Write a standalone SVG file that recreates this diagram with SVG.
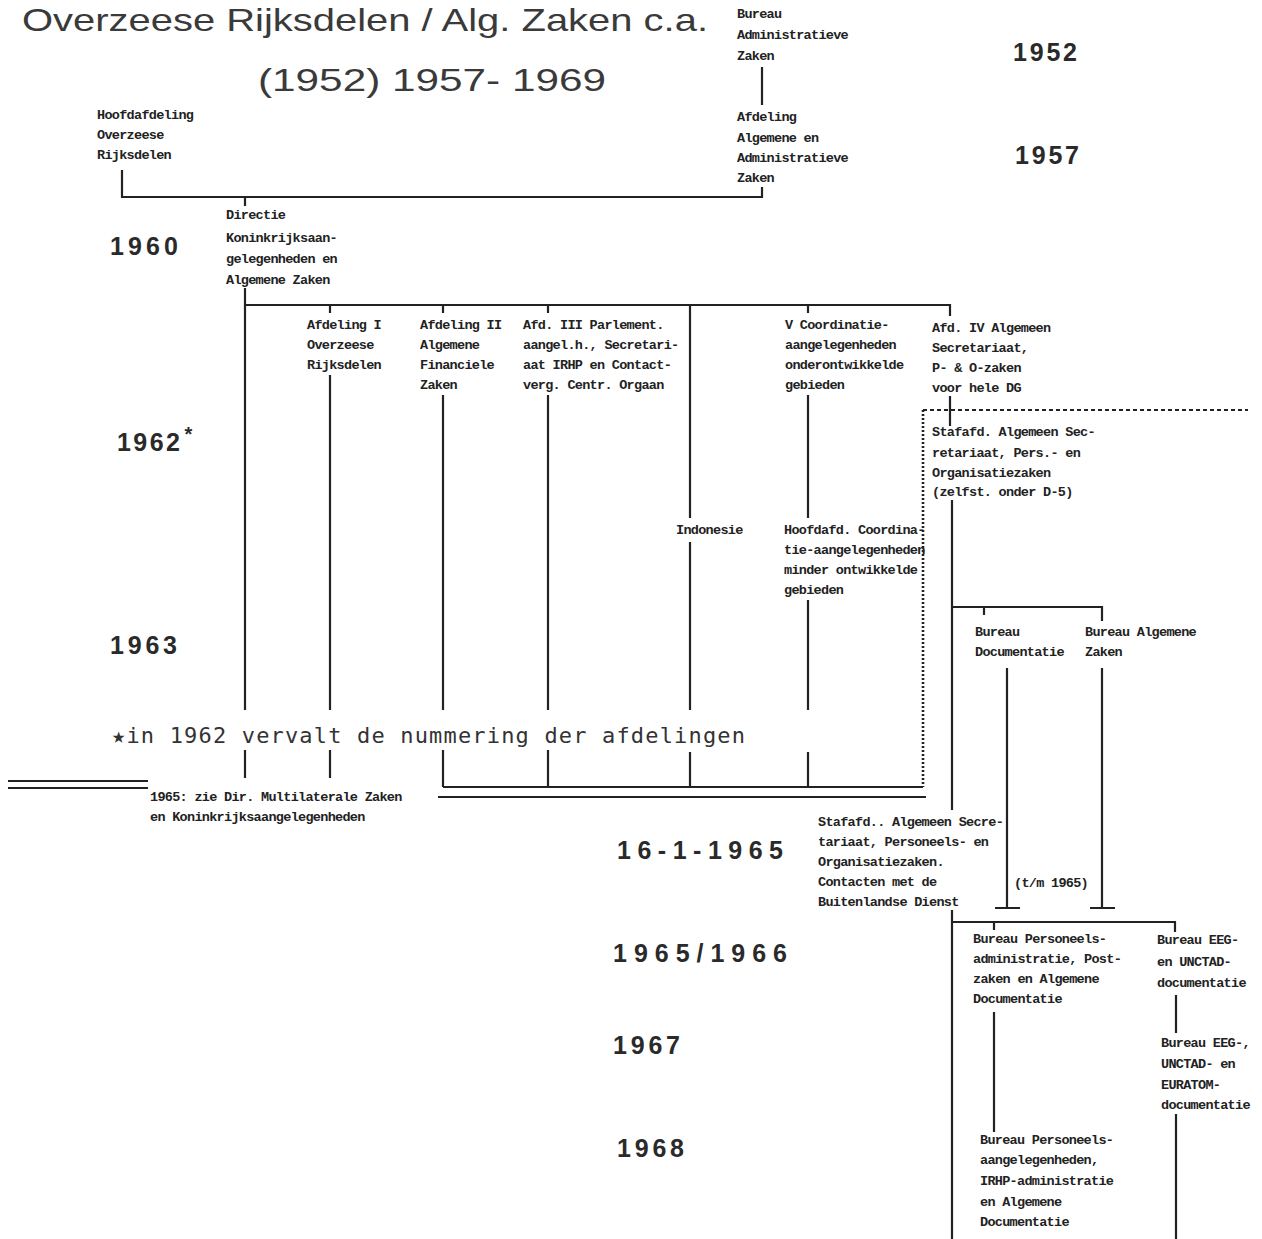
<svg xmlns="http://www.w3.org/2000/svg" width="1262" height="1239" viewBox="0 0 1262 1239">
<style>
.dm{font-family:"Liberation Mono","DejaVu Sans Mono",monospace;font-size:13.5px;letter-spacing:-0.7px;font-weight:bold;fill:#222}
.yr{font-family:"Liberation Sans","Arial",sans-serif;font-size:25px;font-weight:bold;fill:#2a2a2a}
.ttl{font-family:"Liberation Sans","Arial",sans-serif;fill:#3a3a3a}
.ln{fill:none;stroke:#222;stroke-width:2.2}
.dash{fill:none;stroke:#222;stroke-width:2.2;stroke-dasharray:4 3}
.dot{fill:none;stroke:#222;stroke-width:2.6;stroke-dasharray:2 2}
</style>
<rect width="1262" height="1239" fill="#fff"/>

<g id="title">
<text class="ttl" x="22" y="31" font-size="32" textLength="686" lengthAdjust="spacingAndGlyphs">Overzeese Rijksdelen / Alg. Zaken c.a.</text>
<text class="ttl" x="258" y="91" font-size="31" textLength="348" lengthAdjust="spacingAndGlyphs">(1952) 1957- 1969</text>
</g>

<g id="years">
<text class="yr" x="1013" y="61" textLength="64" lengthAdjust="spacing">1952</text>
<text class="yr" x="1015" y="164" textLength="64" lengthAdjust="spacing">1957</text>
<text class="yr" x="110" y="255" textLength="68" lengthAdjust="spacing">1960</text>
<text class="yr" x="117" y="451"><tspan textLength="63" lengthAdjust="spacing">1962</tspan><tspan dx="2" dy="-10" font-size="20">*</tspan></text>
<text class="yr" x="110" y="654" textLength="67" lengthAdjust="spacing">1963</text>
<text class="yr" x="617" y="859" textLength="166" lengthAdjust="spacing">16-1-1965</text>
<text class="yr" x="613" y="962" textLength="174" lengthAdjust="spacing">1965/1966</text>
<text class="yr" x="613" y="1054" textLength="67" lengthAdjust="spacing">1967</text>
<text class="yr" x="617" y="1157" textLength="67" lengthAdjust="spacing">1968</text>
</g>

<g id="footnote">
<text x="112" y="743" font-family="'DejaVu Sans Mono','Liberation Mono',monospace" font-size="22" fill="#333" textLength="633" lengthAdjust="spacing">★in 1962 vervalt de nummering der afdelingen</text>
</g>

<g id="connectors">
<path class="ln" d="M762 67 V105"/>
<path class="ln" d="M122 170 V197 H762 V187"/>
<path class="ln" d="M245 197 V206"/>
<path class="ln" d="M245 288 V710 M245 750 V778"/>
<path class="ln" d="M245 305 H950 V316"/>
<path class="ln" d="M330 305 V313 M443 305 V313 M548 305 V313 M808 305 V313"/>
<path class="ln" d="M330 375 V710 M330 750 V778"/>
<path class="ln" d="M443 395 V710 M443 750 V787"/>
<path class="ln" d="M548 395 V710 M548 750 V787"/>
<path class="ln" d="M690 305 V518 M690 542 V710 M690 752 V787"/>
<path class="ln" d="M808 395 V518 M808 600 V710 M808 752 V787"/>
<path class="ln" d="M443 787 H923"/>
<path class="ln" d="M438 797 H926"/>
<path class="ln" d="M8 781 H148 M8 788 H148"/>
<path class="ln" d="M950 396 V426"/>
<path class="dash" d="M923 410 H1248"/>
<path class="dot" d="M923 410 V787"/>
<path class="ln" d="M952 500 V810"/>
<path class="ln" d="M952 607 H1102 V621 M984 607 V615"/>
<path class="ln" d="M1007 668 V908 M995 908 H1020"/>
<path class="ln" d="M1102 668 V908 M1090 908 H1115"/>
<path class="ln" d="M952 910 V1239"/>
<path class="ln" d="M952 922 H1175 V932 M994 922 V930"/>
<path class="ln" d="M994 1012 V1132"/>
<path class="ln" d="M1176 995 V1033"/>
<path class="ln" d="M1176 1114 V1239"/>
</g>

<g id="n_bureau_adm"><text class="dm" x="737" y="18">Bureau</text><text class="dm" x="737" y="39">Administratieve</text><text class="dm" x="737" y="60">Zaken</text></g>
<g id="n_afd_alg"><text class="dm" x="737" y="121">Afdeling</text><text class="dm" x="737" y="142">Algemene en</text><text class="dm" x="737" y="162">Administratieve</text><text class="dm" x="737" y="182">Zaken</text></g>
<g id="n_hoofdafd"><text class="dm" x="97" y="119">Hoofdafdeling</text><text class="dm" x="97" y="139">Overzeese</text><text class="dm" x="97" y="159">Rijksdelen</text></g>
<g id="n_directie"><text class="dm" x="226" y="219">Directie</text><text class="dm" x="226" y="242">Koninkrijksaan-</text><text class="dm" x="226" y="263">gelegenheden en</text><text class="dm" x="226" y="284">Algemene Zaken</text></g>
<g id="n_afd1"><text class="dm" x="307" y="329">Afdeling I</text><text class="dm" x="307" y="349">Overzeese</text><text class="dm" x="307" y="369">Rijksdelen</text></g>
<g id="n_afd2"><text class="dm" x="420" y="329">Afdeling II</text><text class="dm" x="420" y="349">Algemene</text><text class="dm" x="420" y="369">Financiele</text><text class="dm" x="420" y="389">Zaken</text></g>
<g id="n_afd3"><text class="dm" x="523" y="329">Afd. III Parlement.</text><text class="dm" x="523" y="349">aangel.h., Secretari-</text><text class="dm" x="523" y="369">aat IRHP en Contact-</text><text class="dm" x="523" y="389">verg. Centr. Orgaan</text></g>
<g id="n_indonesie"><text class="dm" x="676" y="534">Indonesie</text></g>
<g id="n_afd5"><text class="dm" x="785" y="329">V  Coordinatie-</text><text class="dm" x="785" y="349">aangelegenheden</text><text class="dm" x="785" y="369">onderontwikkelde</text><text class="dm" x="785" y="389">gebieden</text></g>
<g id="n_afd4"><text class="dm" x="932" y="332">Afd. IV  Algemeen</text><text class="dm" x="932" y="352">Secretariaat,</text><text class="dm" x="932" y="372">P- &amp; O-zaken</text><text class="dm" x="932" y="392">voor hele DG</text></g>
<g id="n_stafafd1"><text class="dm" x="932" y="436">Stafafd. Algemeen Sec-</text><text class="dm" x="932" y="457">retariaat, Pers.- en</text><text class="dm" x="932" y="477">Organisatiezaken</text><text class="dm" x="932" y="496">(zelfst. onder D-5)</text></g>
<g id="n_hoofdafd_coord"><text class="dm" x="784" y="534">Hoofdafd. Coordina-</text><text class="dm" x="784" y="554">tie-aangelegenheden</text><text class="dm" x="784" y="574">minder ontwikkelde</text><text class="dm" x="784" y="594">gebieden</text></g>
<g id="n_bur_doc"><text class="dm" x="975" y="636">Bureau</text><text class="dm" x="975" y="656">Documentatie</text></g>
<g id="n_bur_alg"><text class="dm" x="1085" y="636">Bureau Algemene</text><text class="dm" x="1085" y="656">Zaken</text></g>
<g id="n_note1965"><text class="dm" x="150" y="801">1965: zie Dir. Multilaterale Zaken</text><text class="dm" x="150" y="821">en Koninkrijksaangelegenheden</text></g>
<g id="n_stafafd2"><text class="dm" x="818" y="826">Stafafd.. Algemeen Secre-</text><text class="dm" x="818" y="846">tariaat, Personeels- en</text><text class="dm" x="818" y="866">Organisatiezaken.</text><text class="dm" x="818" y="886">Contacten met de</text><text class="dm" x="818" y="906">Buitenlandse Dienst</text></g>
<g id="n_tm1965"><text class="dm" x="1014" y="887">(t/m 1965)</text></g>
<g id="n_bur_pers1"><text class="dm" x="973" y="943">Bureau Personeels-</text><text class="dm" x="973" y="963">administratie, Post-</text><text class="dm" x="973" y="983">zaken en Algemene</text><text class="dm" x="973" y="1003">Documentatie</text></g>
<g id="n_bur_eeg1"><text class="dm" x="1157" y="944">Bureau EEG-</text><text class="dm" x="1157" y="966">en UNCTAD-</text><text class="dm" x="1157" y="987">documentatie</text></g>
<g id="n_bur_eeg2"><text class="dm" x="1161" y="1047">Bureau EEG-,</text><text class="dm" x="1161" y="1068">UNCTAD- en</text><text class="dm" x="1161" y="1089">EURATOM-</text><text class="dm" x="1161" y="1109">documentatie</text></g>
<g id="n_bur_pers2"><text class="dm" x="980" y="1144">Bureau Personeels-</text><text class="dm" x="980" y="1164">aangelegenheden,</text><text class="dm" x="980" y="1185">IRHP-administratie</text><text class="dm" x="980" y="1206">en Algemene</text><text class="dm" x="980" y="1226">Documentatie</text></g>
</svg>
